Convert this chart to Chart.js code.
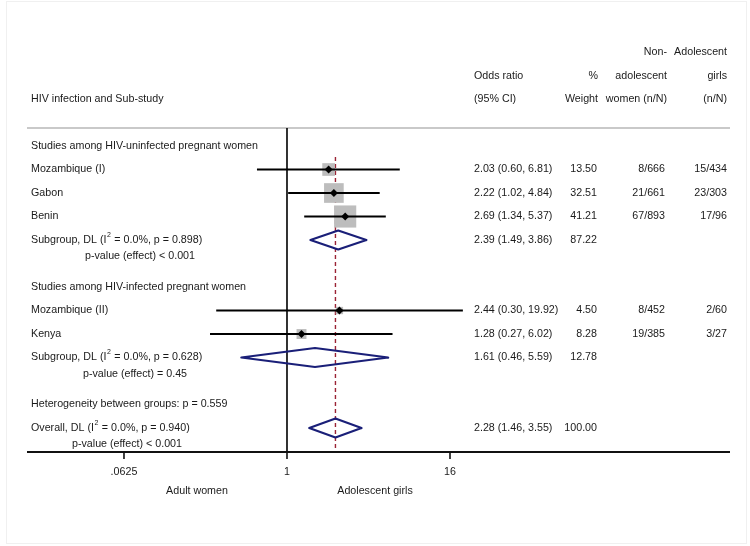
<!DOCTYPE html>
<html><head><meta charset="utf-8">
<script src="https://cdn.jsdelivr.net/npm/chart.js@4/dist/chart.umd.min.js"></script>
<style>html,body{margin:0;padding:0;background:#fff}canvas{display:block}</style>
</head><body>
<canvas id="c" width="750" height="546"></canvas>
<script>
// ---------- data ----------
const studyNames = ['Mozambique (I)', 'Gabon', 'Benin', 'Mozambique (II)', 'Kenya'];
const studyRows = [1, 2, 3, 7, 8];
const studyOR = [2.03, 2.22, 2.69, 2.44, 1.28];
const studyLo = [0.60, 1.02, 1.34, 0.30, 0.27];
const studyHi = [6.81, 4.84, 5.37, 19.92, 6.02];
const studyWeight = [13.50, 32.51, 41.21, 4.50, 8.28];
const nAdult = ['8/666', '21/661', '67/893', '8/452', '19/385'];
const nGirls = ['15/434', '23/303', '17/96', '2/60', '3/27'];

const pooledNames = ['Subgroup, DL', 'Subgroup, DL', 'Overall, DL'];
const pooledRows = [4, 9, 12];
const pooledOR = [2.39, 1.61, 2.28];
const pooledLo = [1.49, 0.46, 1.46];
const pooledHi = [3.86, 5.59, 3.55];
const pooledWeight = [87.22, 12.78, 100.00];
const pooledI2 = ['0.0%', '0.0%', '0.0%'];
const pooledPhet = ['0.898', '0.628', '0.940'];
const pooledPeffect = ['p-value (effect) < 0.001', 'p-value (effect) = 0.45', 'p-value (effect) < 0.001'];

const headingRows = [0, 6, 11];
const headingTexts = ['Studies among HIV-uninfected pregnant women', 'Studies among HIV-infected pregnant women', 'Heterogeneity between groups: p = 0.559'];

const tickValues = [0.0625, 1, 16];
const tickLabels = ['.0625', '1', '16'];
const axisTitles = ['Adult women', 'Adolescent girls'];

const hdrLeft = ['', '', 'HIV infection and Sub-study'];
const hdrOR = ['', 'Odds ratio', '(95% CI)'];
const hdrW = ['', '%', 'Weight'];
const hdrAdult = ['Non-', 'adolescent', 'women (n/N)'];
const hdrGirls = ['Adolescent', 'girls', '(n/N)'];

// ---------- styling ----------
const FONT = '10.7px "Liberation Sans", Arial, sans-serif';
const SUPFONT = '7px "Liberation Sans", Arial, sans-serif';
const TXT = '#1a1a1a';
const NAVY = '#1a1f78';
const MAROON = '#9b2335';
const BOXGRAY = '#bdbdbd';
const L2 = v => Math.log2(v);
const fmt = v => v.toFixed(2);

const Y_MIN = -0.766, Y_MAX = 13.02;
const DIAM_H = 0.404;

const datasets = [];
// null line at OR = 1
datasets.push({data: [{x: L2(1), y: Y_MIN}, {x: L2(1), y: Y_MAX}], showLine: true, borderColor: '#000', borderWidth: 1.6, pointRadius: 0, order: 6});
// overall dashed line
datasets.push({data: [{x: L2(pooledOR[2]), y: 0.47}, {x: L2(pooledOR[2]), y: 12.9}], showLine: true, borderColor: MAROON, borderWidth: 1.4, borderDash: [4, 3], pointRadius: 0, order: 5});
// weight boxes
datasets.push({
  data: studyOR.map((v, i) => ({x: L2(v), y: studyRows[i]})),
  pointStyle: 'rect',
  pointRadius: studyWeight.map(w => 3.45 * Math.sqrt(w) / Math.SQRT2),
  backgroundColor: BOXGRAY, borderWidth: 0, order: 4
});
// CI lines
studyOR.forEach((v, i) => {
  datasets.push({data: [{x: L2(studyLo[i]), y: studyRows[i]}, {x: L2(studyHi[i]), y: studyRows[i]}], showLine: true, borderColor: '#000', borderWidth: 2.1, pointRadius: 0, order: 2});
});
// point estimates
datasets.push({
  data: studyOR.map((v, i) => ({x: L2(v), y: studyRows[i]})),
  pointStyle: 'rectRot', pointRadius: 4, backgroundColor: '#000', borderWidth: 0, order: 0
});
// pooled diamonds (path starts at the top vertex so every tip is a join)
pooledOR.forEach((v, i) => {
  const r = pooledRows[i];
  datasets.push({
    data: [{x: L2(v), y: r - DIAM_H}, {x: L2(pooledHi[i]), y: r}, {x: L2(v), y: r + DIAM_H}, {x: L2(pooledLo[i]), y: r}, {x: L2(v), y: r - DIAM_H}, {x: L2(pooledHi[i]), y: r}],
    showLine: true, borderColor: NAVY, borderWidth: 2.2, pointRadius: 0, fill: false, tension: 0, order: 1,
    borderJoinStyle: 'round', borderCapStyle: 'round'
  });
});

function drawPooledLabel(ctx, x, y, name, i2, p) {
  ctx.font = FONT;
  const a = name + ' (I';
  ctx.fillText(a, x, y);
  let w = ctx.measureText(a).width;
  ctx.font = SUPFONT;
  ctx.fillText('2', x + w + 0.5, y - 5);
  w += ctx.measureText('2').width + 1;
  ctx.font = FONT;
  ctx.fillText(' = ' + i2 + ', p = ' + p + ')', x + w, y);
}

const forestPlugin = {
  id: 'forest',
  beforeDatasetsDraw(chart) {
    const {ctx, chartArea: a} = chart;
    ctx.save();
    ctx.strokeStyle = '#f0f0f0'; ctx.lineWidth = 1;
    ctx.strokeRect(6.5, 1.5, 740, 542);
    ctx.strokeStyle = '#c9c9c9'; ctx.lineWidth = 2;
    ctx.beginPath(); ctx.moveTo(a.left, a.top); ctx.lineTo(a.right, a.top); ctx.stroke();
    ctx.restore();
  },
  afterDraw(chart) {
    const {ctx, chartArea: a, scales: {x, y}} = chart;
    ctx.save();
    // axis line & ticks
    ctx.strokeStyle = '#111'; ctx.lineWidth = 2;
    ctx.beginPath(); ctx.moveTo(a.left, a.bottom); ctx.lineTo(a.right, a.bottom); ctx.stroke();
    ctx.lineWidth = 1.6;
    ctx.fillStyle = TXT; ctx.font = FONT; ctx.textBaseline = 'middle';
    tickValues.forEach((v, i) => {
      const px = x.getPixelForValue(L2(v));
      ctx.beginPath(); ctx.moveTo(px, a.bottom); ctx.lineTo(px, a.bottom + 7); ctx.stroke();
      ctx.textAlign = 'center';
      ctx.fillText(tickLabels[i], px, a.bottom + 20);
    });
    ctx.textAlign = 'center';
    ctx.fillText(axisTitles[0], 197, a.bottom + 39);
    ctx.fillText(axisTitles[1], 375, a.bottom + 39);

    // header
    const hy = [52, 76, 99.5];
    for (let k = 0; k < 3; k++) {
      ctx.textAlign = 'left';
      ctx.fillText(hdrLeft[k], 31, hy[k]);
      ctx.fillText(hdrOR[k], 474, hy[k]);
      ctx.textAlign = 'right';
      ctx.fillText(hdrW[k], 598, hy[k]);
      ctx.fillText(hdrAdult[k], 667, hy[k]);
      ctx.fillText(hdrGirls[k], 727, hy[k]);
    }
    // headings
    ctx.textAlign = 'left';
    headingRows.forEach((r, i) => ctx.fillText(headingTexts[i], 31, y.getPixelForValue(r)));
    // studies
    studyNames.forEach((n, i) => {
      const py = y.getPixelForValue(studyRows[i]);
      ctx.textAlign = 'left';
      ctx.fillText(n, 31, py);
      ctx.fillText(fmt(studyOR[i]) + ' (' + fmt(studyLo[i]) + ', ' + fmt(studyHi[i]) + ')', 474, py);
      ctx.textAlign = 'right';
      ctx.fillText(fmt(studyWeight[i]), 597, py);
      ctx.fillText(nAdult[i], 665, py);
      ctx.fillText(nGirls[i], 727, py);
    });
    // pooled
    const pX = [85, 83, 72];
    pooledNames.forEach((n, i) => {
      const py = y.getPixelForValue(pooledRows[i]);
      ctx.textAlign = 'left';
      drawPooledLabel(ctx, 31, py, n, pooledI2[i], pooledPhet[i]);
      ctx.fillText(pooledPeffect[i], pX[i], py + 16.5);
      ctx.fillText(fmt(pooledOR[i]) + ' (' + fmt(pooledLo[i]) + ', ' + fmt(pooledHi[i]) + ')', 474, py);
      ctx.textAlign = 'right';
      ctx.fillText(fmt(pooledWeight[i]), 597, py);
    });
    ctx.restore();
  }
};

new Chart(document.getElementById('c'), {
  type: 'scatter',
  data: {datasets},
  options: {
    responsive: false,
    animation: false,
    events: [],
    devicePixelRatio: 1,
    layout: {padding: {left: 27, right: 20, top: 128, bottom: 94}},
    scales: {
      x: {type: 'linear', display: false, min: -6.380, max: 10.871},
      y: {type: 'linear', display: false, reverse: true, min: Y_MIN, max: Y_MAX}
    },
    plugins: {legend: {display: false}, tooltip: {enabled: false}}
  },
  plugins: [forestPlugin]
});
</script>
</body></html>
